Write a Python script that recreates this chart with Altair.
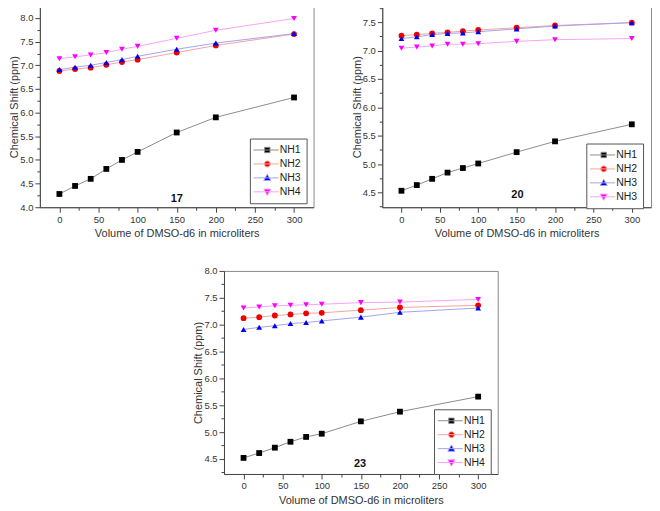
import altair as alt
import pandas as pd

# ---------------- data ----------------
volumes = [0, 20, 40, 60, 80, 100, 150, 200, 300]

p17_nh1 = [4.28, 4.45, 4.60, 4.81, 5.00, 5.17, 5.58, 5.90, 6.32]
p17_nh2 = [6.88, 6.92, 6.95, 7.01, 7.07, 7.12, 7.27, 7.42, 7.66]
p17_nh3 = [6.91, 6.96, 7.00, 7.06, 7.12, 7.19, 7.34, 7.47, 7.67]
p17_nh4 = [7.14, 7.18, 7.22, 7.27, 7.34, 7.40, 7.57, 7.74, 7.99]

p20_nh1 = [4.53, 4.63, 4.74, 4.85, 4.93, 5.01, 5.21, 5.40, 5.70]
p20_nh2 = [7.26, 7.28, 7.30, 7.32, 7.34, 7.36, 7.40, 7.44, 7.49]
p20_nh3 = [7.21, 7.24, 7.28, 7.30, 7.31, 7.33, 7.38, 7.43, 7.49]
p20_nh4 = [7.04, 7.06, 7.08, 7.11, 7.11, 7.12, 7.16, 7.19, 7.21]

p23_nh1 = [4.52, 4.61, 4.71, 4.82, 4.91, 4.97, 5.20, 5.38, 5.66]
p23_nh2 = [7.12, 7.14, 7.17, 7.19, 7.21, 7.22, 7.27, 7.32, 7.36]
p23_nh3 = [6.91, 6.95, 6.98, 7.02, 7.04, 7.07, 7.14, 7.23, 7.31]
p23_nh4 = [7.31, 7.33, 7.35, 7.36, 7.37, 7.38, 7.41, 7.42, 7.47]

names_17 = ["NH1", "NH2", "NH3", "NH4"]
names_20 = ["NH1", "NH2", "NH3", "NH3"]
names_23 = ["NH1", "NH2", "NH3", "NH4"]

x_ticks = [0, 25, 50, 75, 100, 125, 150, 175, 200, 225, 250, 275, 300]
y_ticks_17 = [4.0, 4.25, 4.5, 4.75, 5.0, 5.25, 5.5, 5.75, 6.0, 6.25, 6.5, 6.75,
              7.0, 7.25, 7.5, 7.75, 8.0]
y_ticks_20 = [4.25, 4.5, 4.75, 5.0, 5.25, 5.5, 5.75, 6.0, 6.25, 6.5, 6.75,
              7.0, 7.25, 7.5, 7.75]
y_ticks_23 = [4.25, 4.5, 4.75, 5.0, 5.25, 5.5, 5.75, 6.0, 6.25, 6.5, 6.75,
              7.0, 7.25, 7.5, 7.75, 8.0]

series_keys = ["s1", "s2", "s3", "s4"]
marker_colors = ["#000000", "#ee0000", "#0000ee", "#ff00ff"]
line_colors = ["#8c8c8c", "#f5a3a3", "#a3a3f0", "#f7a3f7"]
point_shapes = ["square", "circle", "triangle-up", "triangle-down"]
LINE = "M-1.3,0H2.9"
legend_paths = [
    LINE + "M0.55,-0.45H1.45V0.45H0.55Z",
    LINE + "M0.5,0A0.5,0.5 0 1,0 1.5,0A0.5,0.5 0 1,0 0.5,0Z",
    LINE + "M1,-0.6L1.6,0.45L0.4,0.45Z",
    LINE + "M1,0.6L1.6,-0.45L0.4,-0.45Z",
]

FONT = "Liberation Sans"
X_TITLE = "Volume of DMSO-d6 in microliters"
Y_TITLE = "Chemical Shift (ppm)"


def make_panel(series, names, ydom, yticks, tag, tag_xy, leg_xy, w, h):
    rows = []
    for key, vals in zip(series_keys, series):
        for v, yv in zip(volumes, vals):
            rows.append({"x": v, "y": yv, "series": key})
    df = pd.DataFrame(rows)

    xaxis = alt.Axis(
        values=x_ticks,
        labelExpr="datum.value % 50 == 0 ? datum.label : ''",
        tickSize={"condition": {"test": "datum.value % 50 == 0", "value": 5}, "value": 3},
        labelPadding=2, titlePadding=4, labelFlush=False, labelOverlap=False,
        title=X_TITLE,
    )
    yaxis = alt.Axis(
        values=yticks,
        labelExpr="round(datum.value * 100) % 50 == 0 ? format(datum.value, '.1f') : ''",
        tickSize={"condition": {"test": "round(datum.value * 100) % 50 == 0", "value": 5}, "value": 3},
        labelPadding=2, titlePadding=0, labelFlush=False, labelOverlap=False,
        title=Y_TITLE,
    )
    xscale = alt.Scale(domain=[-25, 325], nice=False, zero=False)
    yscale = alt.Scale(domain=ydom, nice=False, zero=False)
    xenc = alt.X("x:Q", scale=xscale, axis=xaxis)
    yenc = alt.Y("y:Q", scale=yscale, axis=yaxis)

    label_expr = " : ".join(
        f"datum.label == '{k}' ? '{n}'" for k, n in zip(series_keys, names)
    ) + " : datum.label"

    lines = alt.Chart(df).mark_line(strokeWidth=1).encode(
        x=xenc, y=yenc,
        color=alt.Color("series:N", scale=alt.Scale(domain=series_keys, range=line_colors), legend=None),
    )
    points = alt.Chart(df).mark_point(filled=True, opacity=1, size=34).encode(
        x=xenc, y=yenc,
        color=alt.Color("series:N", scale=alt.Scale(domain=series_keys, range=marker_colors), legend=None),
        shape=alt.Shape("series:N", scale=alt.Scale(domain=series_keys, range=point_shapes), legend=None),
    )
    leg = alt.Legend(
        orient="none", legendX=leg_xy[0], legendY=leg_xy[1], title=None,
        labelExpr=label_expr, labelFont=FONT, labelFontSize=10.5, labelColor="#222",
        symbolSize=144, symbolStrokeWidth=1, labelOffset=12, padding=5, rowPadding=2,
        strokeColor="#555", fillColor="white", symbolOpacity=1,
    )
    legdf = pd.DataFrame({"series": series_keys})
    # invisible helper marks, kept well inside the plot, that only feed the legend
    legend_layer = alt.Chart(legdf).mark_point(filled=True, opacity=0, size=144, strokeWidth=1).encode(
        x=alt.value(w / 2), y=alt.value(h / 2),
        color=alt.Color("series:N", scale=alt.Scale(domain=series_keys, range=marker_colors), legend=leg),
        shape=alt.Shape("series:N", scale=alt.Scale(domain=series_keys, range=legend_paths), legend=leg),
        stroke=alt.Stroke("series:N", scale=alt.Scale(domain=series_keys, range=line_colors), legend=leg),
    )
    text = alt.Chart(pd.DataFrame({"t": [tag]})).mark_text(
        font=FONT, fontSize=11, fontWeight="bold", color="#111"
    ).encode(
        x=alt.X(datum=tag_xy[0], type="quantitative", scale=xscale, axis=xaxis),
        y=alt.Y(datum=tag_xy[1], type="quantitative", scale=yscale, axis=yaxis),
        text="t:N",
    )

    return alt.layer(lines, points, text, legend_layer).resolve_scale(
        color="independent", shape="independent", stroke="independent"
    ).properties(width=w, height=h)


p1 = make_panel([p17_nh1, p17_nh2, p17_nh3, p17_nh4], names_17, [4.0, 8.25], y_ticks_17,
                "17", (150, 4.18), (211, 133), 275, 202)
p2 = make_panel([p20_nh1, p20_nh2, p20_nh3, p20_nh4], names_20, [4.24, 7.78], y_ticks_20,
                "20", (151, 4.45), (205, 138), 270, 202)
p3 = make_panel([p23_nh1, p23_nh2, p23_nh3, p23_nh4], names_23, [4.22, 8.0], y_ticks_23,
                "23", (149, 4.41), (211, 139), 275, 204)

spacer = alt.Chart(pd.DataFrame({"a": [0]})).mark_point(opacity=0, size=1).encode(
    x=alt.value(1), y=alt.value(1)
).properties(width=142, height=204, view=alt.ViewBackground(stroke="transparent"))

res = dict(color="independent", shape="independent", stroke="independent")
top = alt.hconcat(p1, p2, spacing=36).resolve_scale(**res)
bottom = alt.hconcat(spacer, p3, spacing=10).resolve_scale(**res)

chart = alt.vconcat(top, bottom, spacing=26).resolve_scale(**res).properties(
    padding={"left": 0, "top": -7, "right": 0, "bottom": 0}
).configure_view(
    stroke="#8a8a8a", strokeWidth=1
).configure_axis(
    labelFont=FONT, titleFont=FONT, labelFontSize=9.5, titleFontSize=11,
    titleFontWeight="normal", labelColor="#333", titleColor="#333",
    domainColor="#444", tickColor="#444", grid=False,
)

chart.save("out.html", embed_options={"renderer": "svg", "actions": False})
